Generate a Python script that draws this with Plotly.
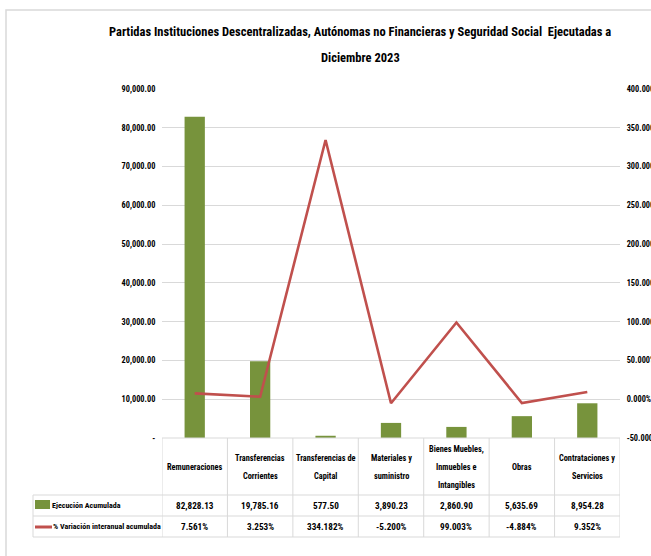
import plotly.graph_objects as go

# ---------------- data ----------------
categories = [
    "Remuneraciones",
    "Transferencias Corrientes",
    "Transferencias de Capital",
    "Materiales y suministro",
    "Bienes Muebles, Inmuebles e Intangibles",
    "Obras",
    "Contrataciones y Servicios",
]
category_labels = [
    "Remuneraciones",
    "Transferencias<br>Corrientes",
    "Transferencias de<br>Capital",
    "Materiales y<br>suministro",
    "Bienes Muebles,<br>Inmuebles e<br>Intangibles",
    "Obras",
    "Contrataciones y<br>Servicios",
]
ejecucion = [82828.13, 19785.16, 577.50, 3890.23, 2860.90, 5635.69, 8954.28]
variacion = [7.561, 3.253, 334.182, -5.200, 99.003, -4.884, 9.352]
series_bar = "Ejecución Acumulada"
series_line = "% Variación interanual acumulada"
left_tickvals = [0, 10000, 20000, 30000, 40000, 50000, 60000, 70000, 80000, 90000]
left_ticktext = ["-", "10,000.00", "20,000.00", "30,000.00", "40,000.00", "50,000.00",
                 "60,000.00", "70,000.00", "80,000.00", "90,000.00"]
right_tickvals = [-50, 0, 50, 100, 150, 200, 250, 300, 350, 400]
right_ticktext = ["-50.000%", "0.000%", "50.000%", "100.000%", "150.000%", "200.000%",
                  "250.000%", "300.000%", "350.000%", "400.000%"]
ejecucion_text = ["82,828.13", "19,785.16", "577.50", "3,890.23", "2,860.90", "5,635.69", "8,954.28"]
variacion_text = ["7.561%", "3.253%", "334.182%", "-5.200%", "99.003%", "-4.884%", "9.352%"]
title_line1 = "Partidas Instituciones Descentralizadas, Autónomas no Financieras y Seguridad Social  Ejecutadas a"
title_line2 = "Diciembre 2023"

# ---------------- style ----------------
FONT = "Roboto Condensed, Liberation Sans Narrow, sans-serif"
GREEN = "#77933C"
RED = "#C0504D"
GRID = "#D9D9D9"
OFF = 0  # body margin removed via post_script
W, H = 651, 556
# target plot area on screen: x 162..620, y 89..438
L = 162 - OFF
T = 89 - OFF
R = W - (620 - OFF)
B = H - (438 - OFF)
PW, PH = W - L - R, H - T - B


def px_x(p):
    return (p - OFF - L) / PW


def px_y(p):
    return (H - B - (p - OFF)) / PH


fig = go.Figure()
fig.add_trace(go.Bar(x=categories, y=ejecucion, name=series_bar, marker_color=GREEN,
                     marker_line_width=0, yaxis="y"))
fig.add_trace(go.Scatter(x=categories, y=variacion, name=series_line, mode="lines",
                         line=dict(color=RED, width=2.6), yaxis="y2"))

shapes = []
annotations = []
n = len(categories)

# table vertical lines
for i in range(n + 1):
    shapes.append(dict(type="line", xref="x", yref="paper", x0=i - 0.5, x1=i - 0.5,
                       y0=px_y(438), y1=px_y(537), line=dict(color=GRID, width=1)))
# legend column left border
shapes.append(dict(type="line", xref="paper", yref="paper", x0=px_x(33), x1=px_x(33),
                   y0=px_y(495), y1=px_y(537), line=dict(color=GRID, width=1)))
# horizontal lines
for yy in [495, 516, 537]:
    shapes.append(dict(type="line", xref="paper", yref="paper", x0=px_x(33), x1=1,
                       y0=px_y(yy), y1=px_y(yy), line=dict(color=GRID, width=1)))
shapes.append(dict(type="line", xref="paper", yref="paper", x0=0, x1=1,
                   y0=px_y(438), y1=px_y(438), line=dict(color=GRID, width=1)))
# chart area border (top and left)
shapes.append(dict(type="rect", xref="paper", yref="paper", x0=px_x(6), x1=px_x(700),
                   y0=px_y(620), y1=px_y(10), line=dict(color=GRID, width=1.5), layer="below"))
# legend keys
shapes.append(dict(type="rect", xref="paper", yref="paper", x0=px_x(35), x1=px_x(50),
                   y0=px_y(509), y1=px_y(500), fillcolor=GREEN, line=dict(width=0)))
shapes.append(dict(type="line", xref="paper", yref="paper", x0=px_x(35), x1=px_x(52),
                   y0=px_y(527), y1=px_y(527), line=dict(color=RED, width=3)))

hf = dict(family=FONT, size=8.3, color="#000000")
vf = dict(family=FONT, size=9.2, color="#000000")
lf = dict(family=FONT, size=8, color="#000000")
for i in range(n):
    lines = category_labels[i].split("<br>")
    k = len(lines)
    for j, ln in enumerate(lines):
        yy = 467 + (j - (k - 1) / 2) * 18
        annotations.append(dict(x=i, y=px_y(yy), xref="x", yref="paper", text="<b>%s</b>" % ln,
                                showarrow=False, font=hf, xanchor="center", yanchor="middle"))
    annotations.append(dict(x=i, y=px_y(505.5), xref="x", yref="paper", text="<b>%s</b>" % ejecucion_text[i],
                            showarrow=False, font=vf, xanchor="center", yanchor="middle"))
    annotations.append(dict(x=i, y=px_y(526.5), xref="x", yref="paper", text="<b>%s</b>" % variacion_text[i],
                            showarrow=False, font=vf, xanchor="center", yanchor="middle"))
annotations.append(dict(x=px_x(50), y=px_y(505.5), xref="paper", yref="paper", text="<b>%s</b>" % series_bar,
                        showarrow=False, font=lf, xanchor="left", yanchor="middle"))
annotations.append(dict(x=px_x(51), y=px_y(526.5), xref="paper", yref="paper", text="<b>%s</b>" % series_line,
                        showarrow=False, font=lf, xanchor="left", yanchor="middle"))
titlefont = dict(family=FONT, size=12.5, color="#000000")
annotations.append(dict(x=px_x(360), y=px_y(31), xref="paper", yref="paper", text="<b>%s</b>" % title_line1,
                        showarrow=False, font=titlefont, xanchor="center", yanchor="middle"))
annotations.append(dict(x=px_x(360), y=px_y(58), xref="paper", yref="paper", text="<b>%s</b>" % title_line2,
                        showarrow=False, font=titlefont, xanchor="center", yanchor="middle"))

tickfont = dict(family=FONT, size=8.3, color="#000000", weight="bold")
fig.update_layout(
    width=W, height=H,
    margin=dict(l=L, r=R, t=T, b=B, pad=0, autoexpand=False),
    paper_bgcolor="white", plot_bgcolor="white",
    showlegend=False,
    bargap=0.69,
    xaxis=dict(type="category", range=[-0.5, n - 0.5], showticklabels=False, showgrid=False,
               showline=False, zeroline=False, automargin=False),
    yaxis=dict(range=[0, 90000], tickvals=left_tickvals, ticktext=left_ticktext, tickfont=tickfont,
               showgrid=True, gridcolor=GRID, gridwidth=1, zeroline=False, showline=False,
               ticks="outside", ticklen=4, tickcolor="rgba(0,0,0,0)", automargin=False),
    yaxis2=dict(range=[-50, 400], tickvals=right_tickvals, ticktext=right_ticktext, tickfont=tickfont,
                overlaying="y", side="right", showgrid=False, zeroline=False, showline=False,
                ticks="outside", ticklen=4, tickcolor="rgba(0,0,0,0)", automargin=False),
    shapes=shapes,
    annotations=annotations,
)

fig.write_html("out.html", config={"displayModeBar": False},
               post_script="document.body.style.margin='0';document.body.style.overflow='hidden';")
